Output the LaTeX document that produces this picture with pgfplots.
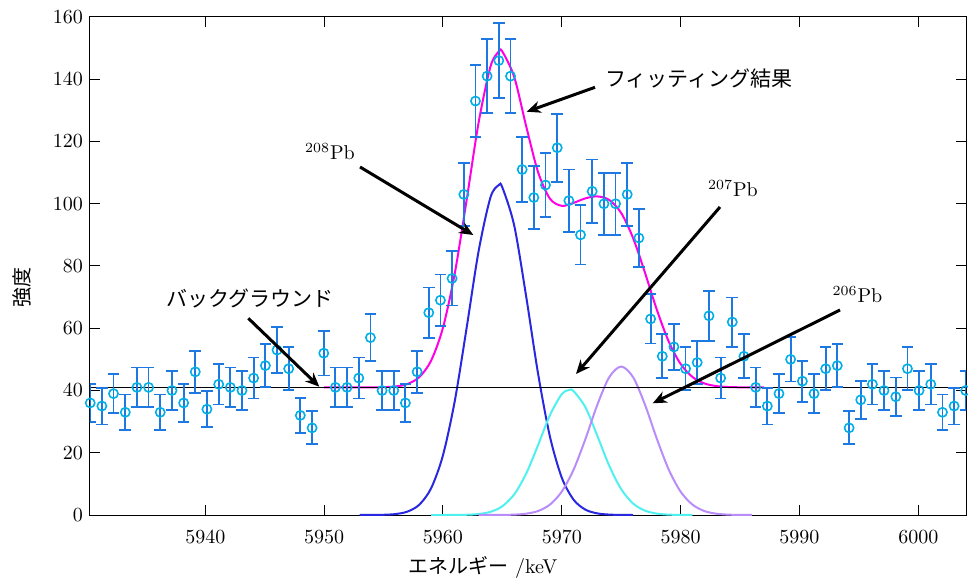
\documentclass[border=0pt]{standalone}
\usepackage{fontspec}
\usepackage{pgfplots}
\usepackage{pgfplotstable}
\pgfplotsset{compat=1.18}
\usetikzlibrary{arrows.meta}
\newfontfamily\jp{Noto Sans CJK JP}
\definecolor{barblue}{RGB}{30,120,225}
\definecolor{markcyan}{RGB}{0,175,230}
\definecolor{fitblue}{RGB}{40,40,225}
\definecolor{fitcyan}{RGB}{80,240,240}
\definecolor{fitpurple}{RGB}{185,140,250}
\definecolor{fitpink}{RGB}{255,0,230}

\pgfplotstableread{
x y e
5930.32 36 6.0
5931.30 35 5.9
5932.28 39 6.2
5933.27 33 5.7
5934.25 41 6.4
5935.23 41 6.4
5936.21 33 5.7
5937.20 40 6.3
5938.18 36 6.0
5939.16 46 6.8
5940.14 34 5.8
5941.13 42 6.5
5942.11 41 6.4
5943.09 40 6.3
5944.07 44 6.6
5945.06 48 6.9
5946.04 53 7.3
5947.02 47 6.9
5948.00 32 5.7
5948.99 28 5.3
5949.97 52 7.2
5950.95 41 6.4
5951.93 41 6.4
5952.92 44 6.6
5953.90 57 7.5
5954.88 40 6.3
5955.86 40 6.3
5956.84 36 6.0
5957.83 46 6.8
5958.81 65 8.1
5959.79 69 8.3
5960.77 76 8.7
5961.76 103 10.1
5962.74 133 11.5
5963.72 141 11.9
5964.70 146 12.1
5965.69 141 11.9
5966.67 111 10.5
5967.65 102 10.1
5968.63 106 10.3
5969.62 118 10.9
5970.60 101 10.0
5971.58 90 9.5
5972.56 104 10.2
5973.55 100 10.0
5974.53 100 10.0
5975.51 103 10.1
5976.49 89 9.4
5977.48 63 7.9
5978.46 51 7.1
5979.44 54 7.3
5980.42 47 6.9
5981.40 49 7.0
5982.39 64 8.0
5983.37 44 6.6
5984.35 62 7.9
5985.33 51 7.1
5986.32 41 6.4
5987.30 35 5.9
5988.28 39 6.2
5989.26 50 7.1
5990.25 43 6.6
5991.23 39 6.2
5992.21 47 6.9
5993.19 48 6.9
5994.18 28 5.3
5995.16 37 6.1
5996.14 42 6.5
5997.12 40 6.3
5998.11 38 6.2
5999.09 47 6.9
6000.07 40 6.3
6001.05 42 6.5
6002.04 33 5.7
6003.02 35 5.9
6003.99 40 6.3
}\datatable

\begin{document}
\begin{tikzpicture}
\begin{axis}[
  at={(0pt,0pt)}, anchor=south west,
  scale only axis, width=438pt, height=249pt,
  xmin=5930.3, xmax=6004.02, ymin=0, ymax=160,
  xtick={5940,5950,...,6000}, ytick={0,20,...,160},
  x tick label style={/pgf/number format/1000 sep={}, yshift=-4.5pt},
  tick align=inside, tick pos=both, major tick length=5pt,
  axis line style={line width=0.5pt},
  every tick/.style={black, line width=0.5pt},
]
\addplot[fitblue, line width=1pt, smooth] coordinates {
(5953,0.00) (5954,0.02) (5955,0.07) (5956,0.30) (5957,1.07) (5958,3.27) (5959,8.54)
(5960,19.13) (5961,36.68) (5962,60.24) (5963,84.73) (5964,102.05) (5964.7,106.0)
(5965,105.26) (5966,92.98) (5967,70.34) (5968,45.57) (5969,25.28) (5970,12.01)
(5971,4.89) (5972,1.70) (5973,0.51) (5974,0.13) (5975,0.03) (5976,0)};
\addplot[fitcyan, line width=1pt, smooth] coordinates {
(5959,0) (5960,0.00) (5961,0.02) (5962,0.08) (5963,0.31) (5964,1.01) (5965,2.81)
(5966,6.63) (5967,13.25) (5968,22.39) (5969,32.04) (5970,38.81) (5970.65,40.2)
(5971,39.79) (5972,34.54) (5973,25.37) (5974,15.78) (5975,8.31) (5976,3.70)
(5977,1.40) (5978,0.45) (5979,0.12) (5980,0.03) (5981,0)};
\addplot[fitpurple, line width=1pt, smooth] coordinates {
(5963,0) (5964,0.01) (5965,0.03) (5966,0.12) (5967,0.42) (5968,1.27) (5969,3.33)
(5970,7.51) (5971,14.61) (5972,24.51) (5973,35.48) (5974,44.30) (5975,47.7)
(5976,44.30) (5977,35.48) (5978,24.51) (5979,14.61) (5980,7.51) (5981,3.33)
(5982,1.27) (5983,0.42) (5984,0.12) (5985,0.03) (5986,0)};
\addplot[fitpink, line width=1pt, smooth] coordinates {
(5950,41) (5951,41) (5952,41) (5953,41) (5954,41.02) (5955,41.07) (5956,41.30)
(5957,42.07) (5958,44.27) (5959,49.54) (5960,60.13) (5961,77.70) (5962,101.32)
(5963,126.04) (5964,144.07) (5964.7,148.9) (5965,148.9) (5966,140.73) (5967,125.01)
(5968,110.23) (5969,101.65) (5970,99.33) (5971,100.29) (5972,101.75) (5973,102.36)
(5974,101.21) (5975,97.04) (5976,89.00) (5977,77.88) (5978,65.96) (5979,55.73)
(5980,48.54) (5981,44.34) (5982,42.27) (5983,41.42) (5984,41.12) (5985,41.03)
(5986,41.01) (5987,41)};
\addplot[black, line width=0.75pt] coordinates {(5929,41) (6005,41)};
\addplot[only marks, mark=o, mark size=2.3pt,
  mark options={markcyan, line width=0.8pt},
  error bars/.cd, y dir=both, y explicit,
  error bar style={barblue, line width=0.9pt},
  error mark options={rotate=90, barblue, mark size=2.9pt, line width=0.9pt}]
  table[x=x, y=y, y error=e] {\datatable};
\end{axis}
% labels
\node[font=\jp, rotate=90, inner sep=0] at (-34pt,113.7pt) {強度};
\node[inner sep=0] at (196.5pt,-26pt) {{\jp エネルギー} /keV};
% annotations
\node[anchor=west, font=\jp\fontsize{10.5}{12}\selectfont, inner sep=0] at (257.5pt,218.35pt) {フィッティング結果};
\node[anchor=base, inner sep=0] at (120pt,177.85pt) {\textsuperscript{208}Pb};
\node[anchor=base, inner sep=0] at (321.5pt,159pt) {\textsuperscript{207}Pb};
\node[anchor=base, inner sep=0] at (383.75pt,106pt) {\textsuperscript{206}Pb};
\node[font=\jp\fontsize{10.5}{12}\selectfont, inner sep=0] at (80pt,108.35pt) {バックグラウンド};
\begin{scope}[line width=1.5pt, -{Stealth[length=7pt,width=6pt]}]
\draw (252.5pt,213.85pt) -- (218.35pt,201.65pt);
\draw (135pt,174pt) -- (191.65pt,140pt);
\draw (315pt,154pt) -- (243pt,70.5pt);
\draw (375pt,102.5pt) -- (281.35pt,55.85pt);
\draw (79.15pt,98.35pt) -- (114.65pt,64.15pt);
\end{scope}
\pgfresetboundingbox
\path[use as bounding box] (-45pt,-31.5pt) rectangle (439pt,257.5pt);
\end{tikzpicture}
\end{document}
